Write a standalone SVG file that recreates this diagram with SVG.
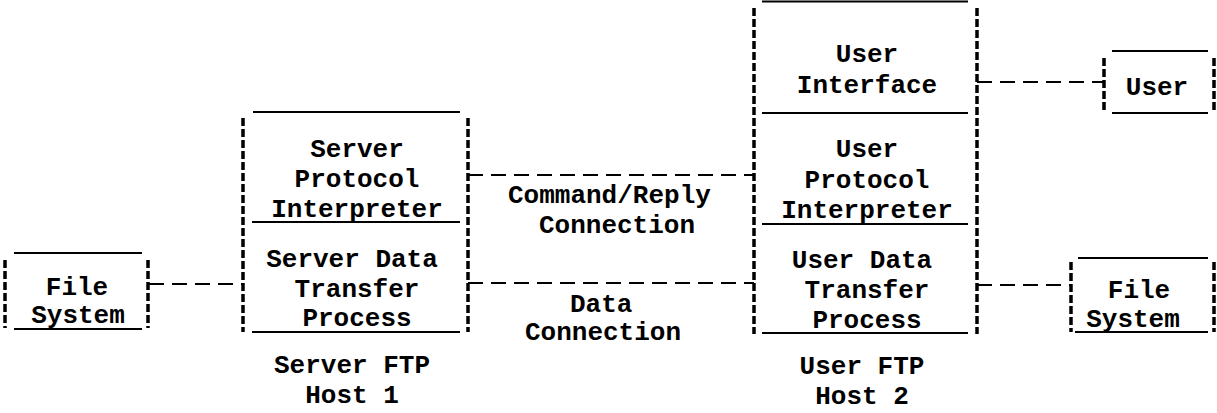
<svg xmlns="http://www.w3.org/2000/svg" width="1217" height="413" viewBox="0 0 1217 413">
<style>
text{font-family:"Liberation Mono","DejaVu Sans Mono",monospace;font-size:26px;font-weight:bold;fill:#000}
.m{text-anchor:middle}
.solid{stroke:#000;stroke-width:2.2;fill:none}
.side{stroke:#000;stroke-width:3.5;stroke-dasharray:8 3;fill:none}
.conn{stroke:#000;stroke-width:2.2;stroke-dasharray:15 8;fill:none}
</style>
<rect width="1217" height="413" fill="#fff"/>
<g id="connectors">
<line class="conn" x1="149" y1="284" x2="243" y2="284"/>
<line class="conn" x1="468" y1="175" x2="754" y2="175"/>
<line class="conn" x1="468" y1="283" x2="754" y2="283"/>
<line class="conn" x1="977" y1="82" x2="1104" y2="82"/>
<line class="conn" x1="977" y1="285" x2="1071" y2="285"/>
<text x="508" y="203">Command/Reply</text>
<text x="539" y="233">Connection</text>
<text x="570" y="312">Data</text>
<text x="525" y="340">Connection</text>
</g>
<g id="fs-left">
<line class="solid" x1="14" y1="253" x2="142" y2="253"/>
<line class="solid" x1="14" y1="329" x2="142" y2="329"/>
<line class="side" x1="5" y1="260" x2="5" y2="328"/>
<line class="side" x1="148" y1="260" x2="148" y2="328"/>
<text class="m" x="77" y="295">File</text>
<text class="m" x="78" y="323">System</text>
</g>
<g id="server-ftp">
<line class="solid" x1="253" y1="112" x2="460" y2="112"/>
<line class="solid" x1="252" y1="222" x2="460" y2="222"/>
<line class="solid" x1="252" y1="332" x2="460" y2="332"/>
<line class="side" x1="243" y1="118" x2="243" y2="332"/>
<line class="side" x1="468" y1="118" x2="468" y2="332"/>
<text class="m" x="357" y="157">Server</text>
<text class="m" x="357" y="187">Protocol</text>
<text class="m" x="357" y="217">Interpreter</text>
<text class="m" x="352" y="267">Server Data</text>
<text class="m" x="357" y="297">Transfer</text>
<text class="m" x="357" y="326">Process</text>
<text class="m" x="352" y="373">Server FTP</text>
<text class="m" x="352" y="403">Host 1</text>
</g>
<g id="user-ftp">
<line class="solid" x1="762" y1="1.5" x2="968" y2="1.5"/>
<line class="solid" x1="762" y1="113" x2="968" y2="113"/>
<line class="solid" x1="762" y1="224" x2="968" y2="224"/>
<line class="solid" x1="762" y1="333" x2="968" y2="333"/>
<line class="side" x1="754" y1="8" x2="754" y2="334"/>
<line class="side" x1="977" y1="8" x2="977" y2="334"/>
<text class="m" x="867" y="62">User</text>
<text class="m" x="867" y="93">Interface</text>
<text class="m" x="867" y="157">User</text>
<text class="m" x="867" y="188">Protocol</text>
<text class="m" x="867" y="218">Interpreter</text>
<text class="m" x="862" y="268">User Data</text>
<text class="m" x="867" y="298">Transfer</text>
<text class="m" x="867" y="328">Process</text>
<text class="m" x="862" y="374">User FTP</text>
<text class="m" x="862" y="404">Host 2</text>
</g>
<g id="user">
<line class="solid" x1="1112" y1="51" x2="1208" y2="51"/>
<line class="solid" x1="1112" y1="113" x2="1208" y2="113"/>
<line class="side" x1="1104" y1="58" x2="1104" y2="112"/>
<line class="side" x1="1214" y1="58" x2="1214" y2="112"/>
<text class="m" x="1157" y="95">User</text>
</g>
<g id="fs-right">
<line class="solid" x1="1078" y1="258" x2="1208" y2="258"/>
<line class="solid" x1="1075" y1="332" x2="1208" y2="332"/>
<line class="side" x1="1071" y1="262" x2="1071" y2="332"/>
<line class="side" x1="1214" y1="262" x2="1214" y2="332"/>
<text class="m" x="1139" y="298">File</text>
<text class="m" x="1133" y="327">System</text>
</g>
</svg>
